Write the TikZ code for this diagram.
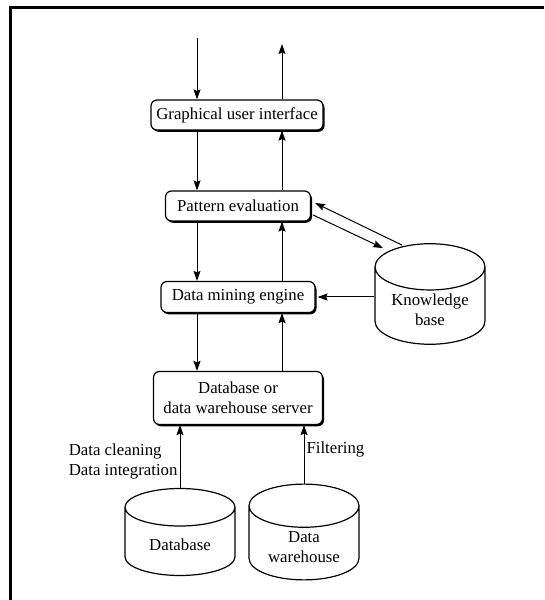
\documentclass[tikz,border=0pt]{standalone}
\usepackage{fontspec}
\setmainfont{Liberation Serif}
\usepackage{tikz}
\usetikzlibrary{shapes.geometric, arrows, arrows.meta, shadows}
\tikzstyle{box} = [rectangle, rounded corners=6pt, draw=black, fill=white, line width=1.2pt, text centered, align=center, font=\fontsize{16.8}{20}\selectfont, drop shadow={shadow xshift=1.5pt, shadow yshift=-1.8pt, fill=black, opacity=1}]
\tikzstyle{store} = [cylinder, shape border rotate=90, aspect=0.55, draw=black, line width=1.2pt, minimum width=110pt, minimum height=87pt, align=center, font=\fontsize{16.8}{20}\selectfont]
\tikzstyle{arrow} = [line width=1pt,->,>={Stealth[length=10pt,width=7pt,inset=1.5pt]}]
\tikzstyle{lbl} = [font=\fontsize{16.8}{20}\selectfont, align=left, inner sep=2pt]

\begin{document}
\begin{tikzpicture}[x=1pt, y=1pt, node distance = 91pt]
                            \useasboundingbox (0,0) rectangle (544,600);
                            \draw [line width=3.5pt] (10.5,0) -- (10.5,592.5) -- (544,592.5);
                            \node (gui) [box, minimum width=172pt, minimum height=30pt] at (237,485) {Graphical user interface};
                            \node (pe) [box, minimum width=145pt, minimum height=30pt, below of=gui, xshift=1pt] {Pattern evaluation};
                            \node (dme) [box, minimum width=154pt, minimum height=31pt, below of=pe] {Data mining engine};
                            \node (dbs) [box, minimum width=169pt, minimum height=53pt, below of=dme, yshift=-10pt] {Database or\\data warehouse server};
                            \node (kb) [store, right of=dme, xshift=101pt, yshift=3pt, anchor=shape center] {Knowledge\\base};
                            \node (db) [store, below of=dbs, xshift=-58pt, yshift=-43pt, anchor=shape center] {Database};
                            \node (dw) [store, anchor=shape center] at ([xshift=124pt]db.shape center) {Data\\warehouse};
                            \coordinate (in) at (197,562);
                            \coordinate (out) at (282,556);
                            \draw [arrow] (in) -- (in |- gui.north);
                            \draw [arrow] (out |- gui.north) -- (out);
                            \draw [arrow] (in |- gui.south) -- (in |- pe.north);
                            \draw [arrow] (out |- pe.north) -- (out |- gui.south);
                            \draw [arrow] (in |- pe.south) -- (in |- dme.north);
                            \draw [arrow] (out |- dme.north) -- (out |- pe.south);
                            \draw [arrow] (in |- dme.south) -- (in |- dbs.north);
                            \draw [arrow] (out |- dbs.north) -- (out |- dme.south);
                            \draw [arrow] ([xshift=-28pt,yshift=-2pt]kb.north) -- ([xshift=4pt,yshift=3pt]pe.east);
                            \draw [arrow] ([xshift=2pt,yshift=-9pt]pe.east) -- ([xshift=-47pt,yshift=-5pt]kb.north);
                            \draw [arrow] (kb.west |- dme.east) -- ([xshift=2pt]dme.east);
                            \draw [arrow] (db.north) -- node [lbl, left, yshift=-5pt] {Data cleaning\\Data integration} (db.north |- dbs.south);
                            \draw [arrow] (dw.north) -- node [lbl, right, yshift=5pt] {Filtering} (dw.north |- dbs.south);
                        \end{tikzpicture}
\end{document}
